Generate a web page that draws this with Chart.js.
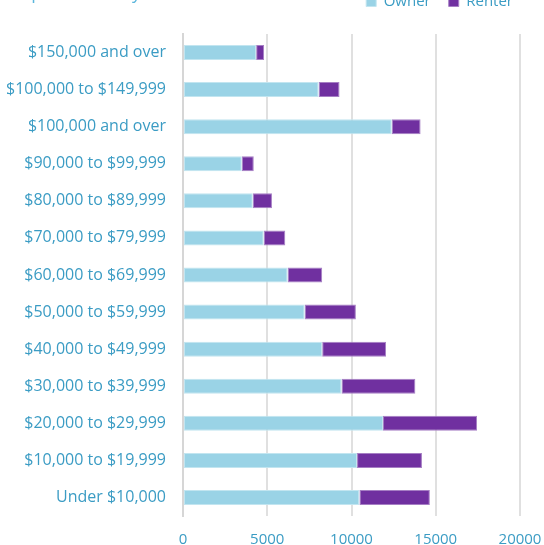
<!DOCTYPE html>
<html>
<head>
<meta charset="utf-8">
<script src="https://cdn.jsdelivr.net/npm/chart.js@4/dist/chart.umd.min.js"></script>
<style>
  html, body { margin: 0; padding: 0; background: #ffffff; overflow: hidden; }
  #clip { position: relative; width: 544px; height: 545px; overflow: hidden; }
  #wrap { position: absolute; left: 0; top: -24px; width: 544px; height: 588px; }
</style>
</head>
<body>
<div id="clip"><div id="wrap"><canvas id="c"></canvas></div></div>
<script>
const titleText = 'Occupied Units by HH Income';
const categories = [
  '$150,000 and over',
  '$100,000 to $149,999',
  '$100,000 and over',
  '$90,000 to $99,999',
  '$80,000 to $89,999',
  '$70,000 to $79,999',
  '$60,000 to $69,999',
  '$50,000 to $59,999',
  '$40,000 to $49,999',
  '$30,000 to $39,999',
  '$20,000 to $29,999',
  '$10,000 to $19,999',
  'Under $10,000'
];
const seriesNames = ['Owner', 'Renter'];
const ownerValues = [4340, 8050, 12390, 3490, 4140, 4790, 6210, 7220, 8260, 9410, 11870, 10330, 10470];
const renterValues = [470, 1240, 1710, 710, 1140, 1280, 2050, 3040, 3790, 4380, 5580, 3850, 4180];
const xTickValues = [0, 5000, 10000, 15000, 20000];

const textColor = '#3b9cc4';
Chart.defaults.font.family = "'Open Sans', sans-serif";

function build() {
  new Chart(document.getElementById('c'), {
    type: 'bar',
    data: {
      labels: categories,
      datasets: [
        {
          label: seriesNames[0],
          data: ownerValues,
          backgroundColor: '#9ad3e6',
          borderColor: '#c2e5f0',
          borderWidth: 1,
          borderSkipped: false,
          categoryPercentage: 1.0,
          barPercentage: 0.405
        },
        {
          label: seriesNames[1],
          data: renterValues,
          backgroundColor: '#7030a0',
          borderColor: '#a67fc4',
          borderWidth: 1,
          borderSkipped: false,
          categoryPercentage: 1.0,
          barPercentage: 0.405
        }
      ]
    },
    options: {
      indexAxis: 'y',
      responsive: true,
      maintainAspectRatio: false,
      animation: false,
      layout: { padding: { left: -11, right: 13, top: 0, bottom: 0 } },
      plugins: {
        tooltip: { enabled: false },
        legend: {
          display: true,
          position: 'top',
          align: 'end',
          weight: 2000,
          labels: {
            color: textColor,
            font: { size: 15 },
            boxWidth: 10,
            boxHeight: 10,
            padding: 18
          }
        },
        title: {
          display: true,
          text: titleText,
          position: 'top',
          align: 'start',
          weight: 1000,
          color: '#5ab6dc',
          font: { size: 18, weight: 'normal' },
          padding: { top: -35.8, bottom: 29.2 }
        }
      },
      scales: {
        x: {
          stacked: true,
          min: 0,
          max: 20000,
          afterFit: (scale) => { scale.paddingRight = 24; },
          afterBuildTicks: (scale) => { scale.ticks = xTickValues.map(v => ({ value: v })); },
          ticks: {
            color: textColor,
            font: { size: 15 },
            padding: 15,
            maxRotation: 0,
            callback: (v) => String(v)
          },
          grid: {
            color: '#e0e0e0',
            lineWidth: 2,
            drawTicks: false
          },
          border: { display: false }
        },
        y: {
          stacked: true,
          ticks: {
            color: textColor,
            font: { size: 16 },
            padding: 17
          },
          grid: { display: false, drawTicks: false },
          border: { display: true, color: '#d6d6d6', width: 2 }
        }
      }
    }
  });
}

Promise.all([
  document.fonts.load("16px 'Open Sans'"),
  document.fonts.load("15px 'Open Sans'"),
  document.fonts.load("18px 'Open Sans'")
]).then(build, build);
</script>
</body>
</html>
